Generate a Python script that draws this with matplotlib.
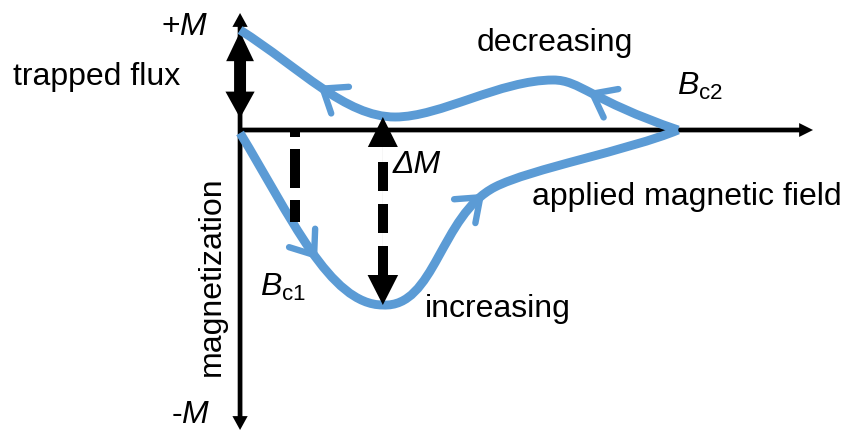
import matplotlib
matplotlib.use("Agg")
import matplotlib.pyplot as plt
from matplotlib.bezier import BezierSegment
from matplotlib.patches import FancyArrowPatch, PathPatch
from matplotlib.path import Path
import numpy as np

plt.rcParams["font.family"] = ["Liberation Sans", "DejaVu Sans"]
plt.rcParams["mathtext.fontset"] = "custom"
plt.rcParams["mathtext.rm"] = "Liberation Sans"
plt.rcParams["mathtext.it"] = "Liberation Sans:italic"

BLUE = "#5B9BD5"

# field in units of Bc2, magnetisation in units of the trapped flux.
# each branch is a chain of cubic Bezier pieces: anchor, ctrl, ctrl, anchor, ...
DECREASING_H = [1.000, 0.799, 0.776, 0.715, 0.594, 0.457, 0.354, 0.240, 0.137, 0.000]
DECREASING_M = [0.00, 0.30, 0.50, 0.50, 0.50, 0.13, 0.13, 0.13, 0.62, 1.00]
INCREASING_H = [0.000, 0.114, 0.205, 0.326, 0.445, 0.457, 0.582, 0.662, 0.890, 1.000]
INCREASING_M = [-0.03, -0.85, -1.75, -1.75, -1.78, -0.85, -0.57, -0.39, -0.20, 0.00]

# (piece index, position along piece) of the direction chevrons
DECREASING_MARKS = [(0, 0.55), (2, 0.52)]
INCREASING_MARKS = [(0, 0.55), (1, 0.93)]

BC1_H, BC1_M = 0.126, -0.92
DELTA_H, DELTA_TOP, DELTA_BOTTOM = 0.326, 0.13, -1.75
TRAPPED_TOP, TRAPPED_BOTTOM = 0.98, 0.12
H_AXIS_END = 1.308
M_AXIS_TOP, M_AXIS_BOTTOM = 1.17, -3.0


def branch(ax, hs, ms, marks):
    pts = np.column_stack([hs, ms])
    codes = [Path.MOVETO] + [Path.CURVE4] * (len(pts) - 1)
    ax.add_patch(PathPatch(Path(pts, codes), facecolor="none", edgecolor=BLUE,
                           lw=6.4, capstyle="butt", zorder=3))
    for seg, t in marks:
        bez = BezierSegment(pts[3 * seg:3 * seg + 4])
        tip = bez.point_at_t(t)
        back = bez.point_at_t(t - 0.08)
        ax.annotate("", xy=tip, xytext=back,
                    arrowprops=dict(arrowstyle="->,head_length=15,head_width=11.5",
                                    mutation_scale=1, color=BLUE, lw=4.6,
                                    shrinkA=0, shrinkB=0),
                    zorder=3)


def solid_arrow(ax, start, end, head_len, head_w, tail_w, z=2):
    style = f"simple,head_length={head_len},head_width={head_w},tail_width={tail_w}"
    ax.add_patch(FancyArrowPatch(start, end, arrowstyle=style, mutation_scale=1,
                                 color="black", lw=0, shrinkA=0, shrinkB=0, zorder=z))


fig = plt.figure(figsize=(8.45, 4.32), dpi=100)
ax = fig.add_axes([0, 0, 1, 1])
ax.set_xlim(-0.548, 1.381)
ax.set_ylim(-3.02, 1.30)
ax.axis("off")

# axes of the diagram
solid_arrow(ax, (0, 0), (H_AXIS_END, 0), 10, 10, 3.4)
solid_arrow(ax, (0, 0), (0, M_AXIS_TOP), 10, 11, 3.4)
solid_arrow(ax, (0, 0), (0, M_AXIS_BOTTOM), 10, 11, 3.4)

# trapped flux double arrow
mid = (TRAPPED_TOP + TRAPPED_BOTTOM) / 2
solid_arrow(ax, (0, mid), (0, TRAPPED_TOP), 21, 20, 8.6)
solid_arrow(ax, (0, mid), (0, TRAPPED_BOTTOM), 19, 21, 8.6)

branch(ax, DECREASING_H, DECREASING_M, DECREASING_MARKS)
branch(ax, INCREASING_H, INCREASING_M, INCREASING_MARKS)

# Bc1 drop line
ax.plot([BC1_H, BC1_H], [0, BC1_M], color="black", lw=7.2,
        linestyle=(3.2, (3.9, 1.2)), zorder=4)

# delta M double arrow, dashed shaft
solid_arrow(ax, (DELTA_H, DELTA_BOTTOM), (DELTA_H, DELTA_TOP), 21.6, 21.6, 0.01, z=5)
solid_arrow(ax, (DELTA_H, DELTA_TOP), (DELTA_H, DELTA_BOTTOM), 21.6, 22, 0.01, z=5)
ax.plot([DELTA_H, DELTA_H], [-1.45, -0.32], color="black", lw=7.2,
        linestyle=(0, (2.9, 1.3)), zorder=5)

fs = 23
ax.text(-0.073, 0.95, r"+$M$", fontsize=fs, ha="right", va="baseline")
ax.text(-0.068, -2.93, r"-$M$", fontsize=fs, ha="right", va="baseline")
ax.text(-0.518, 0.45, "trapped flux", fontsize=fs, ha="left", va="baseline")
ax.text(0.541, 0.79, "decreasing", fontsize=fs, ha="left", va="baseline")
ax.text(0.998, 0.35, r"$B_{\mathrm{c2}}$", fontsize=fs, ha="left", va="baseline")
ax.text(0.667, -0.75, "applied magnetic field", fontsize=fs, ha="left", va="baseline")
ax.text(0.349, -0.43, "ΔM", fontsize=fs, style="italic", ha="left", va="baseline")
ax.text(0.046, -1.66, r"$B_{\mathrm{c1}}$", fontsize=fs, ha="left", va="baseline")
ax.text(0.422, -1.87, "increasing", fontsize=fs, ha="left", va="baseline")
ax.text(-0.064, -1.46, "magnetization", fontsize=fs, rotation=90,
        ha="center", va="center")

fig.savefig("out.png", dpi=100)
